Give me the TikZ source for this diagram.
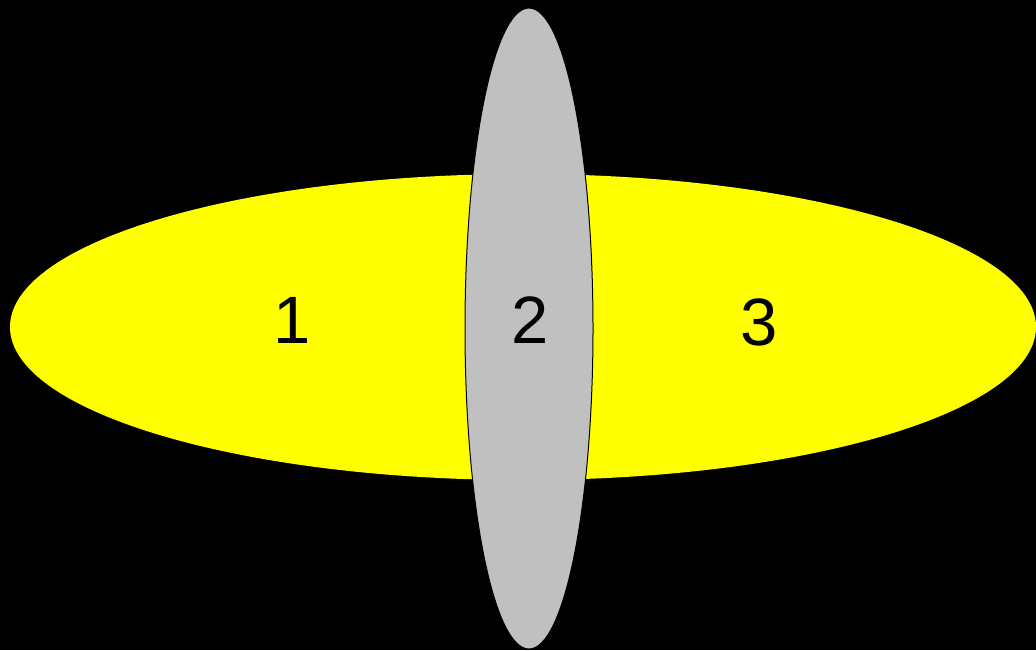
\documentclass[tikz,border=0pt]{standalone}
\usepackage{fontspec}
\setmainfont{Liberation Sans}
\usepackage{tikz}
\usetikzlibrary{shapes.geometric}
\definecolor{regionyellow}{RGB}{255,255,0}
\definecolor{regiongray}{RGB}{192,192,192}

\begin{document}
\begin{tikzpicture}[
    x=0.5pt, y=-0.5pt,
    region/.style={ellipse, inner sep=0pt},
    num/.style={inner sep=0pt, font=\fontsize{33.5}{40}\selectfont}
]

% Background
\useasboundingbox (0,0) rectangle (1036,650);
\fill[black] (0,0) rectangle (1036,650);

% Regions
\node (Outer) [region, fill=regionyellow, minimum width=513pt, minimum height=153pt] at (523,327) {};
\node (Inner) [region, fill=regiongray, draw=black, line width=0.5pt,
    minimum width=64pt, minimum height=320.5pt] at (529,328.5) {};

% Labels
\node (L1) at (292,320) [num] {1};
\node (L2) at (530,320) [num] {2};
\node (L3) at (759,322) [num] {3};

\end{tikzpicture}
\end{document}
